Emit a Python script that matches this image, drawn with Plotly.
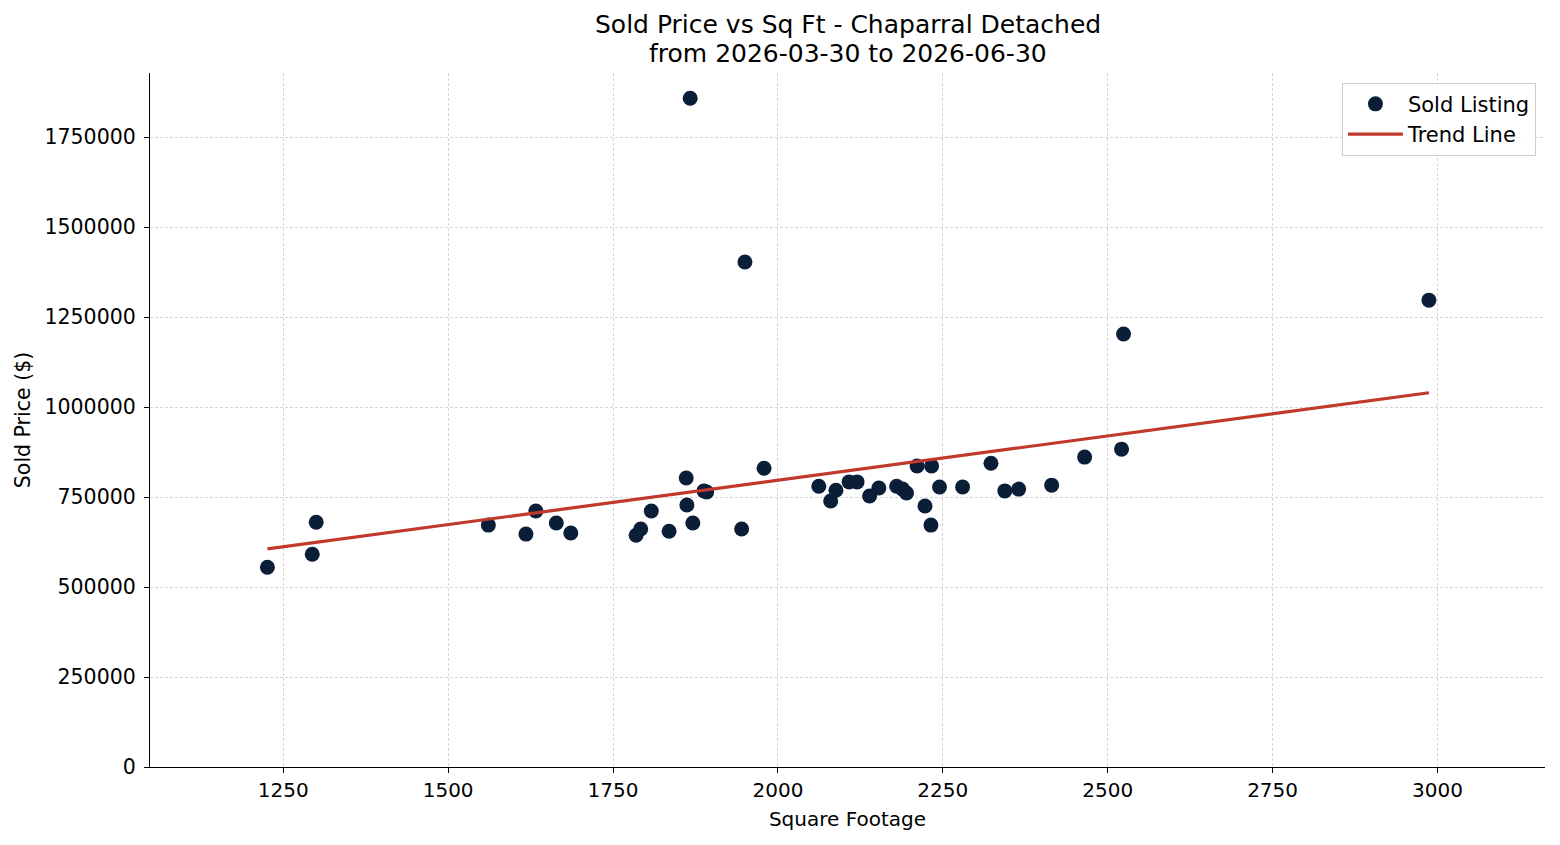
import numpy as np
import plotly.graph_objects as go

sqft = [1226, 1294, 1300, 1561, 1618, 1633, 1664, 1686, 1785, 1792, 1808, 1835,
        1861, 1862, 1871, 1867, 1888, 1892, 1945, 1950, 1979, 2062, 2080, 2088,
        2108, 2120, 2139, 2153, 2180, 2189, 2195, 2211, 2223, 2233, 2232, 2245,
        2280, 2323, 2344, 2365, 2415, 2465, 2521, 2524, 2987]
price = [555000, 591000, 680000, 672000, 647000, 711000, 678000, 650000, 644000,
         661000, 711000, 655000, 803000, 728000, 678000, 1858000, 767000, 764000,
         661000, 1403000, 830000, 780000, 739000, 769000, 792000, 792000, 753000,
         775000, 780000, 772000, 761000, 836000, 725000, 836000, 672000, 778000,
         778000, 844000, 767000, 772000, 783000, 861000, 883000, 1203000, 1297000]

x_ticks = [1250, 1500, 1750, 2000, 2250, 2500, 2750, 3000]
y_ticks = [0, 250000, 500000, 750000, 1000000, 1250000, 1500000, 1750000]
title_lines = ["Sold Price vs Sq Ft - Chaparral Detached", "from 2026-03-30 to 2026-06-30"]

slope, intercept = np.polyfit(sqft, price, 1)
tx = [min(sqft), max(sqft)]
ty = [slope * v + intercept for v in tx]

fig = go.Figure()
fig.add_trace(go.Scatter(x=sqft, y=price, mode="markers", name="Sold Listing",
                         marker=dict(size=15, color="#0b1e38", line=dict(width=0))))
fig.add_trace(go.Scatter(x=tx, y=ty, mode="lines", name="Trend Line",
                         line=dict(color="#c0392b", width=3.2)))

font = "DejaVu Sans, sans-serif"
fig.update_layout(
    width=1560, height=845,
    margin=dict(l=150, r=15, t=73, b=78),
    plot_bgcolor="white", paper_bgcolor="white",
    font=dict(family=font, size=20, color="black"),
    legend=dict(x=0.9935, y=0.986, xanchor="right", yanchor="top",
                bordercolor="#cccccc", borderwidth=1, bgcolor="rgba(255,255,255,0.8)",
                font=dict(size=21, family=font), itemwidth=55, tracegroupgap=0),
    showlegend=True,
)
for txt, yp in zip(title_lines, [1.0692, 1.0288]):
    fig.add_annotation(text=txt, x=0.5, xref="paper", y=yp, yref="paper",
                       xanchor="center", yanchor="middle", showarrow=False,
                       font=dict(size=25, family=font, color="black"))

fig.update_xaxes(range=[1048, 3163], tickvals=x_ticks, ticktext=[str(v) for v in x_ticks],
                 showgrid=True, gridcolor="#d6d6d6", griddash="3px,2px", gridwidth=0.8,
                 showline=True, linecolor="black", linewidth=1.2, ticks="outside",
                 ticklen=5, tickcolor="black", zeroline=False,
                 title=dict(text="Square Footage", font=dict(size=20), standoff=10),
                 tickfont=dict(size=20))
fig.update_yaxes(range=[0, 1928000], tickvals=y_ticks, ticktext=[str(v) for v in y_ticks],
                 showgrid=True, gridcolor="#d6d6d6", griddash="3px,2px", gridwidth=0.8,
                 showline=True, linecolor="black", linewidth=1.2, ticks="outside",
                 ticklen=5, tickcolor="black", zeroline=False, ticklabelstandoff=4,
                 title=dict(text="Sold Price ($)", font=dict(size=20.5), standoff=8),
                 tickfont=dict(size=20.5))

fig.write_html("out.html")
